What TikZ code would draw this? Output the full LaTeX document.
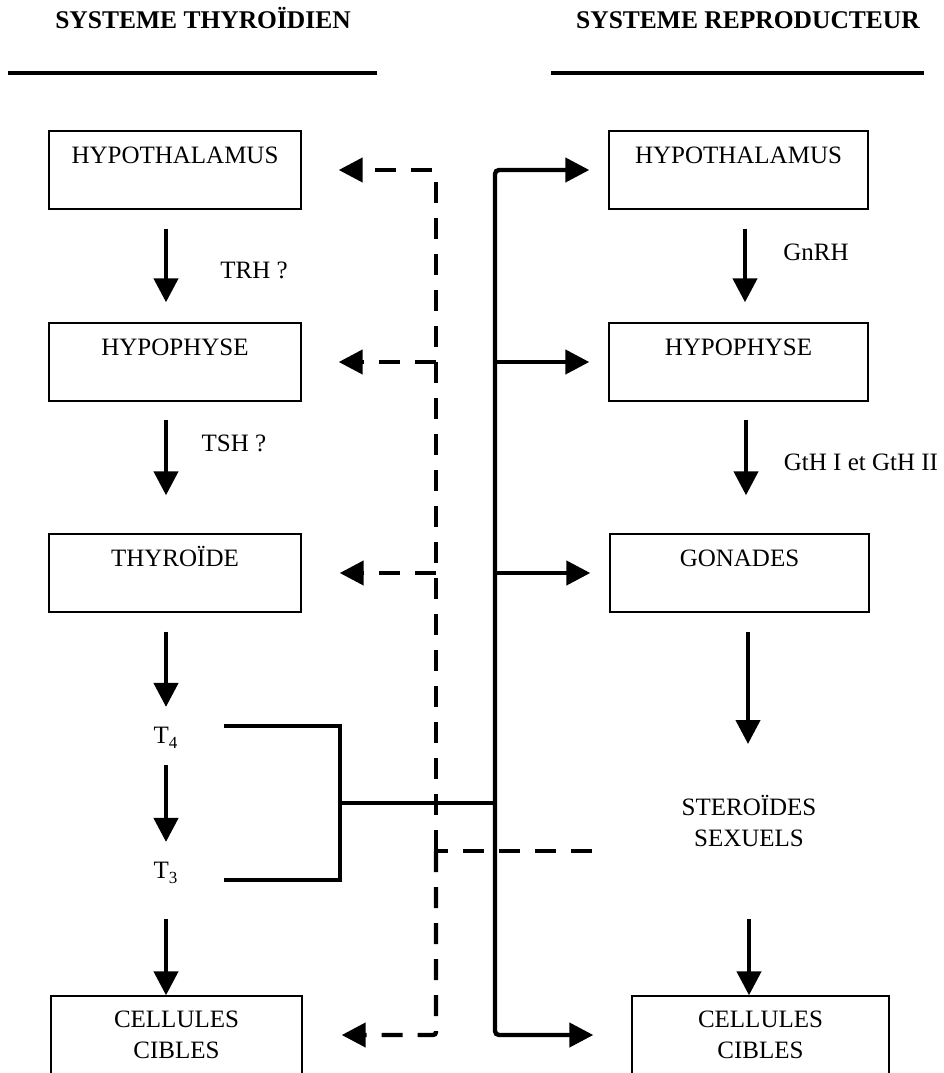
\documentclass[tikz,border=0pt]{standalone}
\usepackage{fontspec}
\setmainfont{Liberation Serif}
\usetikzlibrary{arrows.meta}
\begin{document}
\begin{tikzpicture}[x=1pt,y=-1pt,
  every node/.style={font=\fontsize{25}{31}\selectfont, inner sep=0pt},
  box/.style={draw, line width=1.4pt, minimum width=252pt, text height=32pt, text depth=46pt, align=center},
  boxr/.style={box, minimum width=259pt},
  lbl/.style={anchor=base},
  ttl/.style={anchor=base, font=\fontsize{25.5}{31}\selectfont\bfseries},
  conn/.style={line width=4.4pt},
  arr/.style={conn, -{Triangle[length=24pt,width=24pt]}},
  dsh/.style={line width=4.4pt, dash pattern=on 21pt off 15pt},
  darr/.style={dsh, -{Triangle[length=24pt,width=24pt]}}
]
\useasboundingbox (0,0) rectangle (944,1073);

% titles
\node[ttl] (tl) at (203,28.5) {SYSTEME THYROÏDIEN};
\node[ttl] (tr) at (748,28.5) {SYSTEME REPRODUCTEUR};
\coordinate (ulA) at (8,73);
\coordinate (ulB) at (377,73);
\coordinate (urA) at (551,73);
\coordinate (urB) at (924,73);
\draw[conn] (ulA) -- (ulB);
\draw[conn] (urA) -- (urB);

% left column
\node[box] (hypL) at (175,170) {HYPOTHALAMUS};
\node[box] (hypoL) at (175,362) {HYPOPHYSE};
\node[box] (thyL) at (175,573) {THYROÏDE};
\node[lbl] (t4) at (165.5,743) {T\raisebox{-5pt}{\fontsize{17}{17}\selectfont 4}};
\node[lbl] (t3) at (165.5,878) {T\raisebox{-5pt}{\fontsize{17}{17}\selectfont 3}};
\node[box, minimum width=251pt, text height=31.4pt, text depth=46.6pt] (celL) at (176.5,1035)
  {\begin{tabular}[t]{@{}c@{}}CELLULES\\CIBLES\end{tabular}};
\node[lbl] (trh) at (254,278.5) {TRH ?};
\node[lbl] (tsh) at (234,451.5) {TSH ?};

% right column
\node[boxr] (hypR) at (738.5,170) {HYPOTHALAMUS};
\node[boxr] (hypoR) at (738.5,362) {HYPOPHYSE};
\node[boxr] (gonR) at (739.5,573) {GONADES};
\node[lbl] (ster) at (749,815.5) {\begin{tabular}[t]{@{}c@{}}STEROÏDES\\SEXUELS\end{tabular}};
\node[boxr, minimum width=257pt, text height=31.4pt, text depth=46.6pt] (celR) at (760.5,1035)
  {\begin{tabular}[t]{@{}c@{}}CELLULES\\CIBLES\end{tabular}};
\node[lbl] (gnrh) at (816,260.5) {GnRH};
\node[lbl] (gth) at (861,470.5) {GtH I et GtH II};

% left vertical arrows
\draw[arr] ([xshift=-9pt,yshift=-19pt]hypL.south) -- ([xshift=-9pt,yshift=20pt]hypoL.north);
\draw[arr] ([xshift=-9pt,yshift=-18pt]hypoL.south) -- ([xshift=-9pt,yshift=38pt]thyL.north);
\draw[arr] ([xshift=-9pt,yshift=-19pt]thyL.south) -- ([xshift=0.5pt,yshift=19.5pt]t4.north);
\draw[arr] ([xshift=0.5pt,yshift=-17pt]t4.south) -- ([xshift=0.5pt,yshift=19.5pt]t3.north);
\draw[arr] ([xshift=0.5pt,yshift=-36pt]t3.south) -- ([xshift=-10.5pt]celL.north);

% right vertical arrows
\draw[arr] ([xshift=6.5pt,yshift=-19pt]hypR.south) -- ([xshift=6.5pt,yshift=20pt]hypoR.north);
\draw[arr] ([xshift=7.5pt,yshift=-18pt]hypoR.south) -- ([xshift=6.5pt,yshift=38pt]gonR.north);
\draw[arr] ([xshift=8.5pt,yshift=-19pt]gonR.south) -- ([xshift=-1pt,yshift=71.5pt]ster.base);
\draw[arr] ([yshift=-103.5pt]ster.base) -- ([xshift=-11.5pt]celR.north);

% solid feedback system
\coordinate (sJ) at (495,803);
\draw[arr, rounded corners=4pt, shorten >=19pt] (sJ) |- (hypR.west);
\draw[arr, rounded corners=4pt, shorten >=38pt] (sJ) |- (celR.west);
\draw[arr, shorten >=19pt] (hypoR.west -| sJ) -- (hypoR.west);
\draw[arr, shorten >=19pt] (gonR.west -| sJ) -- (gonR.west);

% T4 / T3 bracket
\coordinate (bA) at (224,726);
\coordinate (bB) at (224,880);
\coordinate (bM) at (340,803);
\draw[conn] (bA) -| (bM) |- (bB);
\draw[conn] (bM) -- (sJ);

% dashed feedback system
\coordinate (dJ) at (436,851);
\coordinate (dSt) at (592,851);
\draw[dsh] (dSt) -- (dJ);
\draw[darr, rounded corners=3pt, shorten >=37pt] (dJ) |- (hypL.east);
\draw[darr, rounded corners=3pt, shorten >=39pt] (dJ) |- (celL.east);
\draw[darr, shorten >=37pt] (hypoL.east -| dJ) -- (hypoL.east);
\draw[darr, shorten >=38pt] (thyL.east -| dJ) -- (thyL.east);
\end{tikzpicture}
\end{document}
